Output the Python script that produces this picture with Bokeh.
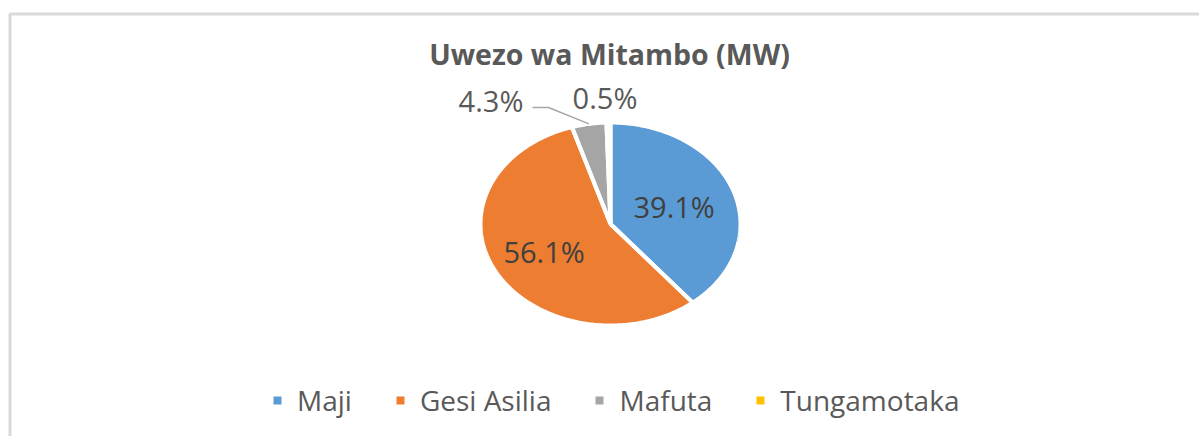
import numpy as np
from bokeh.plotting import figure
from bokeh.models import Range1d, Legend, LegendItem, ColumnDataSource
from bokeh.core.properties import value
from bokeh.embed import file_html
from bokeh.resources import INLINE

# ---- data ----
title = "Uwezo wa Mitambo (MW)"
categories = ["Maji", "Gesi Asilia", "Mafuta", "Tungamotaka"]
shares = [39.1, 56.1, 4.3, 0.5]
colors = ["#5B9BD5", "#ED7D31", "#A5A5A5", "#FFC000"]
label_text = ["39.1%", "56.1%", "4.3%", "0.5%"]

# ---- layout ----
W, H = 1199, 436
CX, CY, RX, RY = 610, 223.5, 130, 101.5
FONT = "Open Sans"

p = figure(width=W, height=H, x_range=Range1d(0, W), y_range=Range1d(H, 0),
           toolbar_location=None, output_backend="svg", min_border=0)
p.axis.visible = False
p.grid.visible = False
p.outline_line_color = None
p.background_fill_color = "white"
p.border_fill_color = "white"

# chart area frame
p.quad(left=[9.5], right=[W + 20], top=[13.5], bottom=[H + 20],
       fill_color=None, line_color="#D9D9D9", line_width=3)

# pie slices (elliptical, clockwise from 12 o'clock)
total = float(sum(shares))
fr = np.cumsum([0.0] + shares) / total
xs, ys = [], []
for a0, a1 in zip(fr[:-1], fr[1:]):
    n = max(int((a1 - a0) * 500), 4)
    t = np.linspace(a0, a1, n) * 2 * np.pi
    xs.append([CX] + list(CX + RX * np.sin(t)))
    ys.append([CY] + list(CY - RY * np.cos(t)))

src = ColumnDataSource(dict(xs=xs, ys=ys, color=colors, cat=categories))
pie = p.patches("xs", "ys", source=src, fill_color="color", line_color=None)
p.multi_line([x + [x[0]] for x in xs], [y + [y[0]] for y in ys],
             line_color="white", line_width=4)

# inside labels
mids = (fr[:-1] + fr[1:]) / 2 * 2 * np.pi
fac = [0.52, 0.58]
in_x = [CX + RX * fac[i] * np.sin(mids[i]) for i in (0, 1)]
in_y = [CY - RY * fac[i] * np.cos(mids[i]) for i in (0, 1)]
p.text(in_x, in_y, text=[label_text[0], label_text[1]], text_font=value(FONT),
       text_font_size="29px", text_color="#404040", text_align="center",
       text_baseline="middle")

# outside labels (manually placed as in source)
p.text([490.5, 604.5], [100, 97], text=[label_text[2], label_text[3]],
       text_font=value(FONT), text_font_size="29px", text_color="#595959",
       text_align="center", text_baseline="middle")

# leader line to Mafuta slice
gx = CX + RX * np.sin(mids[2])
gy = CY - RY * np.cos(mids[2])
p.line([532, 548, gx], [107, 107, gy], line_color="#A6A6A6", line_width=1.5)

# title
p.text([609], [53], text=[title], text_font=value(FONT), text_font_size="28.5px",
       text_font_style="bold", text_color="#595959", text_align="center",
       text_baseline="middle")

legend = Legend(items=[LegendItem(label=c, renderers=[pie], index=i)
                       for i, c in enumerate(categories)],
                orientation="horizontal", location=(272, 17),
                glyph_width=10, glyph_height=10, label_standoff=15, spacing=43,
                padding=0, margin=0, border_line_color=None,
                background_fill_alpha=0, label_text_font=FONT,
                label_text_font_size="28px", label_text_color="#595959")
p.add_layout(legend, "center")

open("out.html", "w").write(file_html(p, INLINE))
